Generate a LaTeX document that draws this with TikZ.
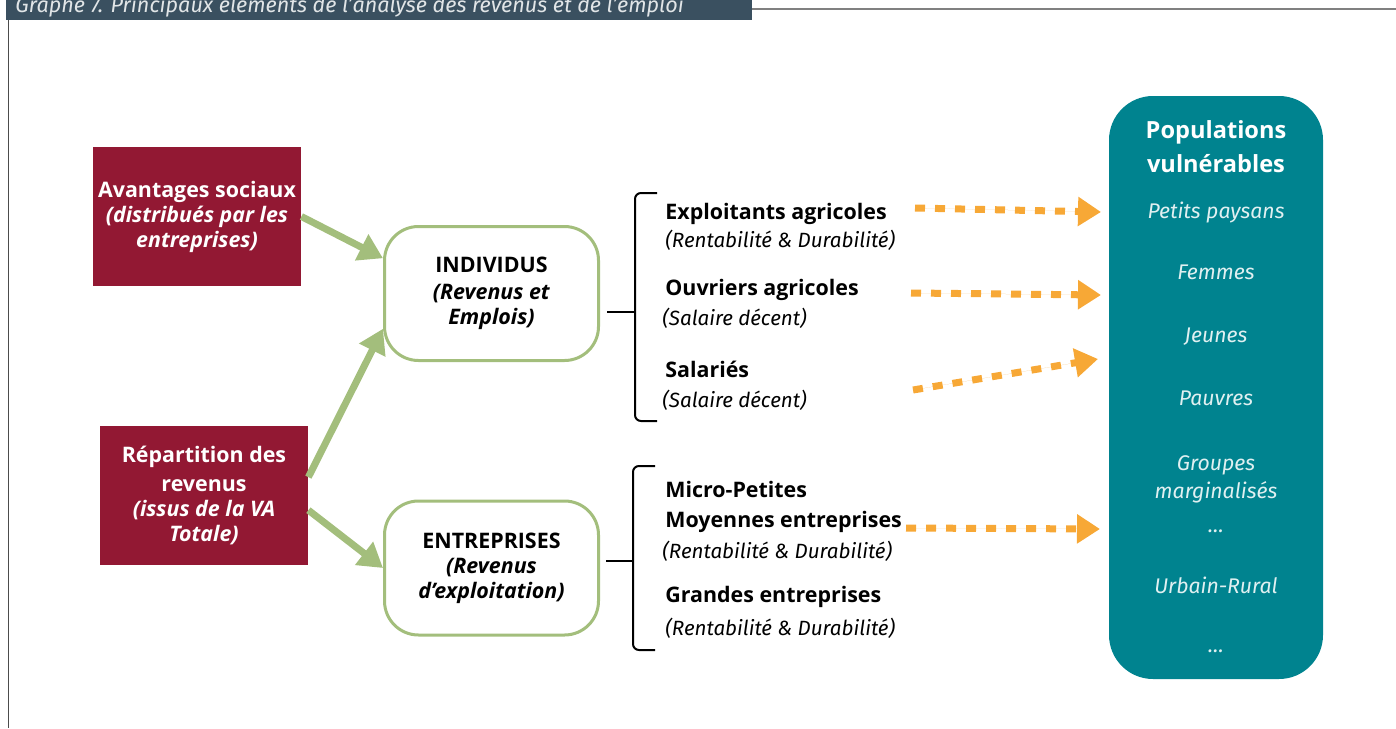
\documentclass[tikz,border=0pt]{standalone}
\usepackage{fontspec}
\setmainfont{Fira Sans}
\newfontfamily\heavysans{Open Sans}
\usetikzlibrary{arrows.meta,positioning}

\definecolor{wine}{RGB}{146,24,51}
\definecolor{sage}{RGB}{163,190,124}
\definecolor{amber}{RGB}{247,168,54}
\definecolor{vteal}{RGB}{0,131,143}
\definecolor{slate}{RGB}{58,80,96}

\begin{document}
\begin{tikzpicture}[x=0.5pt,y=-0.5pt,
        redbox/.style={fill=wine,text=white,minimum width=104pt,minimum height=69.5pt,
            align=center,inner sep=2pt,font=\fontsize{10.7}{12.5}\selectfont\heavysans\bfseries},
        greenbox/.style={draw=sage,line width=1.5pt,rounded corners=17pt,fill=white,
            minimum width=107pt,minimum height=67pt,align=center,
            font=\fontsize{10.7}{12.5}\selectfont\heavysans\bfseries},
        growth/.style={-{Triangle[length=12pt,width=14pt]},draw=sage,fill=sage,line width=3.5pt},
        dotarrow/.style={-{Triangle[length=11.5pt,width=14pt]},draw=amber,fill=amber,
            line width=3.5pt,dash pattern=on 5pt off 5pt},
        brace/.style={draw=black,line width=1pt,rounded corners=3pt},
        grouphead/.style={anchor=base west,inner sep=0pt,font=\fontsize{10.7}{12}\selectfont\heavysans\bfseries},
        groupnote/.style={anchor=base west,inner sep=0pt,font=\fontsize{10.3}{12}\selectfont\itshape},
        popbox/.style={fill=vteal,rounded corners=22pt,minimum width=107pt,minimum height=291.5pt},
        poptitle/.style={anchor=base,inner sep=0pt,text=white,font=\fontsize{11.8}{13}\selectfont\heavysans\bfseries},
        popitem/.style={anchor=base,inner sep=0pt,text=white!88!vteal,font=\fontsize{10.6}{12}\selectfont\itshape}]

    \useasboundingbox (0,0) rectangle (1396,728);

    \fill[slate] (6,-10) rectangle (752,20);
    \node[anchor=base west,inner sep=0pt,text=white!85!slate,
          font=\fontsize{10.8}{12}\selectfont\itshape] (title) at (15,12)
        {Graphe 7. Principaux éléments de l’analyse des revenus et de l’emploi};
    \draw[black!70,line width=0.7pt] (8.5,20) -- (8.5,728);
    \draw[black!50,line width=1pt] (752,9) -- (1396,9);

    \node[redbox] (avant) at (197,216.5)
        {Avantages sociaux\\\textit{(distribués par les}\\\textit{entreprises)}};
    \node[redbox] (repart) at (204,495.5)
        {Répartition des\\[2pt]revenus\\\textit{(issus de la VA}\\\textit{Totale)}};

    \node[greenbox] (indiv) at (491.5,293.5)
        {INDIVIDUS\\[1pt]\textit{(Revenus et}\\\textit{Emplois)}};
    \node[greenbox] (entre) at (491.5,568)
        {ENTREPRISES\\\textit{(Revenus}\\\textit{d’exploitation)}};

    \draw[growth] (avant.east) -- (indiv.162);
    \draw[growth] (repart.10) -- (indiv.198);
    \draw[growth] (repart.-8) -- (entre.west);

    \draw[brace] (657,193) -- (635,193) -- (635,421) -- (657,421);
    \draw[brace] (607,312) -- (635,312);
    \draw[brace] (655,466) -- (633,466) -- (633,650) -- (655,650);
    \draw[brace] (606,561) -- (633,561);

    \node[grouphead] (ea) at (665,219) {Exploitants agricoles};
    \node[groupnote] (ean) at (665,247) {(Rentabilité \& Durabilité)};
    \node[grouphead] (oa) at (665,295) {Ouvriers agricoles};
    \node[groupnote] (oan) at (662,325) {(Salaire décent)};
    \node[grouphead] (sal) at (665,377) {Salariés};
    \node[groupnote] (saln) at (662,407) {(Salaire décent)};
    \node[grouphead] (mp) at (665,497) {Micro-Petites};
    \node[grouphead] (me) at (665,527) {Moyennes entreprises};
    \node[groupnote] (men) at (662,558) {(Rentabilité \& Durabilité)};
    \node[grouphead] (ge) at (665,602) {Grandes entreprises};
    \node[groupnote] (gen) at (665,635) {(Rentabilité \& Durabilité)};

    \node[popbox] (pop) at (1216,387.5) {};
    \node[poptitle] (pt1) at (1216,138) {Populations};
    \node[poptitle] (pt2) at (1216,172) {vulnérables};
    \node[popitem] (p1) at (1216,218) {Petits paysans};
    \node[popitem] (p2) at (1216,279) {Femmes};
    \node[popitem] (p3) at (1216,342) {Jeunes};
    \node[popitem] (p4) at (1216,405) {Pauvres};
    \node[popitem] (p5) at (1216,470) {Groupes};
    \node[popitem] (p6) at (1216,498) {marginalisés};
    \node[popitem] (p7) at (1216,532) {…};
    \node[popitem] (p8) at (1216,593) {Urbain-Rural};
    \node[popitem] (p9) at (1216,652) {…};

    \coordinate (s1) at (915,208);  \coordinate (e1) at (1101,212);
    \coordinate (s2) at (911,293);  \coordinate (e2) at (1101,295);
    \coordinate (s3) at (913,390);  \coordinate (e3) at (1098,359);
    \coordinate (s4) at (906,528);  \coordinate (e4) at (1100,529);
    \draw[dotarrow] (s1) -- (e1);
    \draw[dotarrow] (s2) -- (e2);
    \draw[dotarrow] (s3) -- (e3);
    \draw[dotarrow] (s4) -- (e4);
\end{tikzpicture}
\end{document}
